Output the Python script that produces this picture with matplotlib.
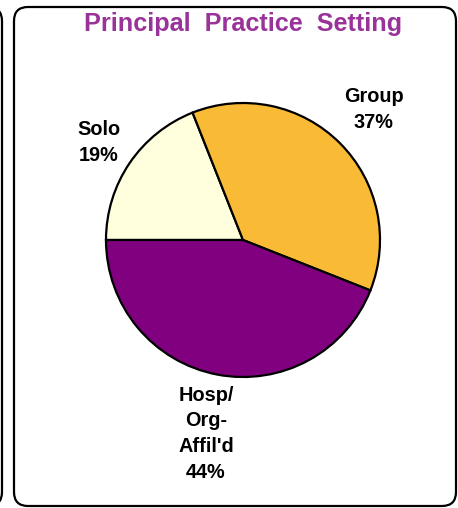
import matplotlib
matplotlib.use("Agg")
import matplotlib.pyplot as plt
import numpy as np
from matplotlib.patches import FancyBboxPatch

labels = ["Solo", "Group", "Hosp/\nOrg-\nAffil'd"]
shares = [19, 37, 44]
colors = ["#FFFFDD", "#F9BB36", "#800080"]
label_dist = [1.27, 1.35, 1.44]

W, H = 458, 508
fig = plt.figure(figsize=(W / 100, H / 100), dpi=100)
plt.rcParams["font.family"] = ["Liberation Sans", "DejaVu Sans"]

# background axes in pixel coords for the panel frames
bg = fig.add_axes([0, 0, 1, 1])
bg.set_xlim(0, W)
bg.set_ylim(H, 0)
bg.axis("off")
bg.add_patch(FancyBboxPatch((14, 7), 442, 499, boxstyle="round,pad=0,rounding_size=14",
                            fc="white", ec="black", lw=1.6))
bg.add_patch(FancyBboxPatch((-300, 7), 302, 499, boxstyle="round,pad=0,rounding_size=14",
                            fc="white", ec="black", lw=1.6))

fig.text(243 / W, 1 - 31 / H, "Principal  Practice  Setting", ha="center", va="baseline",
         fontsize=18.2, fontweight="bold", color="#993399")

# pie
cx, cy, r = 243, 240, 137
ax = fig.add_axes([(cx - r) / W, (H - cy - r) / H, 2 * r / W, 2 * r / H])
wedges, _ = ax.pie(shares, colors=colors, startangle=180, counterclock=False,
                   wedgeprops=dict(edgecolor="black", linewidth=1.6))
ax.set_xlim(-1, 1)
ax.set_ylim(-1, 1)
ax.set_aspect("equal")
ax.axis("off")

for w, lab, s, d in zip(wedges, labels, shares, label_dist):
    ang = np.deg2rad((w.theta1 + w.theta2) / 2)
    ax.text(d * np.cos(ang), d * np.sin(ang), f"{lab}\n{s}%", ha="center", va="center",
            fontsize=14.3, fontweight="bold", linespacing=1.45, clip_on=False)

fig.savefig("out.png", dpi=100)
